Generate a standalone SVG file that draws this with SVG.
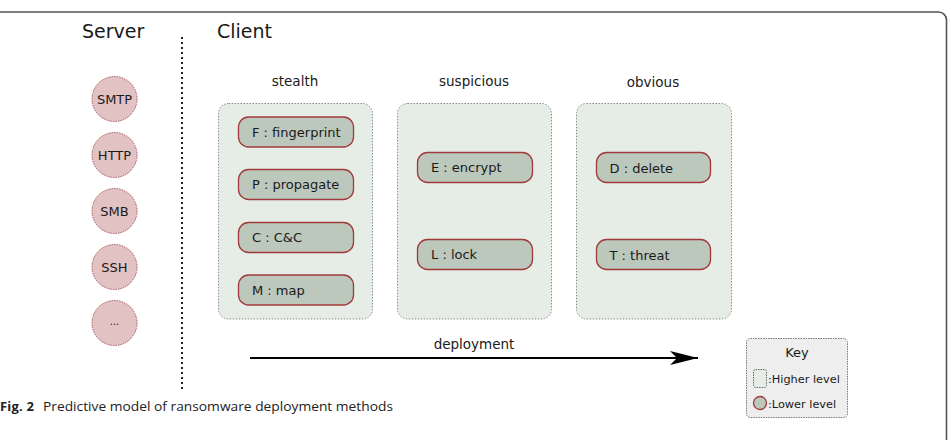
<svg xmlns="http://www.w3.org/2000/svg" width="951" height="440" viewBox="0 0 951 440">
<defs>
<style>
text{font-family:"DejaVu Sans","Liberation Sans",sans-serif;fill:#1a1a1a}
.grp{fill:#e6ede6;stroke:#8a8a8a;stroke-width:1;stroke-dasharray:1.5 1.5}
.nd{fill:#bcc8bc;stroke:#a03a3a;stroke-width:1.3}
.ntx{font-size:13px}
.srv{fill:#e3c2c4;stroke:#a05558;stroke-width:1;stroke-dasharray:1.5 1}
.stx{font-size:13px;text-anchor:middle}
.hd{font-size:13.5px;text-anchor:middle}
</style>
<marker id="ah" markerWidth="30" markerHeight="14" refX="28" refY="7" orient="auto" markerUnits="userSpaceOnUse">
<path d="M0,0 L28,7 L0,14 L7,7 Z" fill="#000"/>
</marker>
</defs>
<rect x="-10" y="12" width="956.5" height="440" rx="8" fill="#fff" stroke="#555" stroke-width="1.6"/>
<text x="82" y="38" style="font-size:19px">Server</text>
<text x="217" y="38" style="font-size:19px">Client</text>
<g id="connectors">
<line x1="182" y1="37" x2="182" y2="391" stroke="#222" stroke-width="2" stroke-dasharray="2 3"/>
<line x1="250" y1="358" x2="698" y2="358" stroke="#000" stroke-width="2" marker-end="url(#ah)"/>
<text x="474" y="349" class="hd">deployment</text>
</g>
<g id="smtp"><circle class="srv" cx="114.5" cy="99" r="22.5"/><text class="stx" x="114.5" y="103.5">SMTP</text></g>
<g id="http"><circle class="srv" cx="114.5" cy="155" r="22.5"/><text class="stx" x="114.5" y="159.5">HTTP</text></g>
<g id="smb"><circle class="srv" cx="114.5" cy="211" r="22.5"/><text class="stx" x="114.5" y="215.5">SMB</text></g>
<g id="ssh"><circle class="srv" cx="114.5" cy="267" r="22.5"/><text class="stx" x="114.5" y="271.5">SSH</text></g>
<g id="more"><circle class="srv" cx="114.5" cy="323" r="22.5"/><text class="stx" x="114.5" y="325" style="font-size:10px">...</text></g>
<g id="stealth">
<text class="hd" x="295" y="86">stealth</text>
<rect class="grp" x="218.5" y="103.5" width="154" height="215.5" rx="10"/>
</g>
<g id="fingerprint"><rect class="nd" x="238.5" y="117" width="115" height="30" rx="10"/><text class="ntx" x="252" y="136.5">F : fingerprint</text></g>
<g id="propagate"><rect class="nd" x="238.5" y="169.5" width="115" height="30" rx="10"/><text class="ntx" x="252" y="189">P : propagate</text></g>
<g id="cc"><rect class="nd" x="238.5" y="222.5" width="115" height="30" rx="10"/><text class="ntx" x="252" y="242">C : C&amp;C</text></g>
<g id="map"><rect class="nd" x="238.5" y="275" width="115" height="30" rx="10"/><text class="ntx" x="252" y="294.5">M : map</text></g>
<g id="suspicious">
<text class="hd" x="474" y="86">suspicious</text>
<rect class="grp" x="397.5" y="103.5" width="154" height="215.5" rx="10"/>
</g>
<g id="encrypt"><rect class="nd" x="417.5" y="152.5" width="115" height="30" rx="10"/><text class="ntx" x="431" y="172">E : encrypt</text></g>
<g id="lock"><rect class="nd" x="417.5" y="239.5" width="115" height="30" rx="10"/><text class="ntx" x="431" y="259">L : lock</text></g>
<g id="obvious">
<text class="hd" x="653" y="87">obvious</text>
<rect class="grp" x="576.5" y="103.5" width="155" height="215.5" rx="10"/>
</g>
<g id="delete"><rect class="nd" x="596.5" y="152.5" width="114" height="30" rx="10"/><text class="ntx" x="609.5" y="172.5">D : delete</text></g>
<g id="threat"><rect class="nd" x="596.5" y="239.5" width="114" height="30" rx="10"/><text class="ntx" x="609.5" y="259.5">T : threat</text></g>
<g id="key">
<rect x="746.5" y="338.5" width="101" height="79" rx="4" fill="#eeeeee" stroke="#777" stroke-width="1" stroke-dasharray="1.5 1"/>
<text x="797" y="357" style="font-size:13px;text-anchor:middle">Key</text>
<rect x="753.5" y="369.5" width="13" height="18" rx="2" fill="#e6ede6" stroke="#666" stroke-width="1" stroke-dasharray="1.5 1"/>
<text x="768" y="383" style="font-size:11.3px">:Higher level</text>
<circle cx="760" cy="403" r="6.5" fill="#bcc8bc" stroke="#a03a3a" stroke-width="1.3"/>
<text x="768" y="407.5" style="font-size:11.3px">:Lower level</text>
</g>
<text x="0" y="411" style="font-family:'Open Sans','Noto Sans',sans-serif;font-size:13px;fill:#222"><tspan font-weight="bold" textLength="34">Fig. 2</tspan><tspan x="43" textLength="350" lengthAdjust="spacingAndGlyphs">Predictive model of ransomware deployment methods</tspan></text>
</svg>
